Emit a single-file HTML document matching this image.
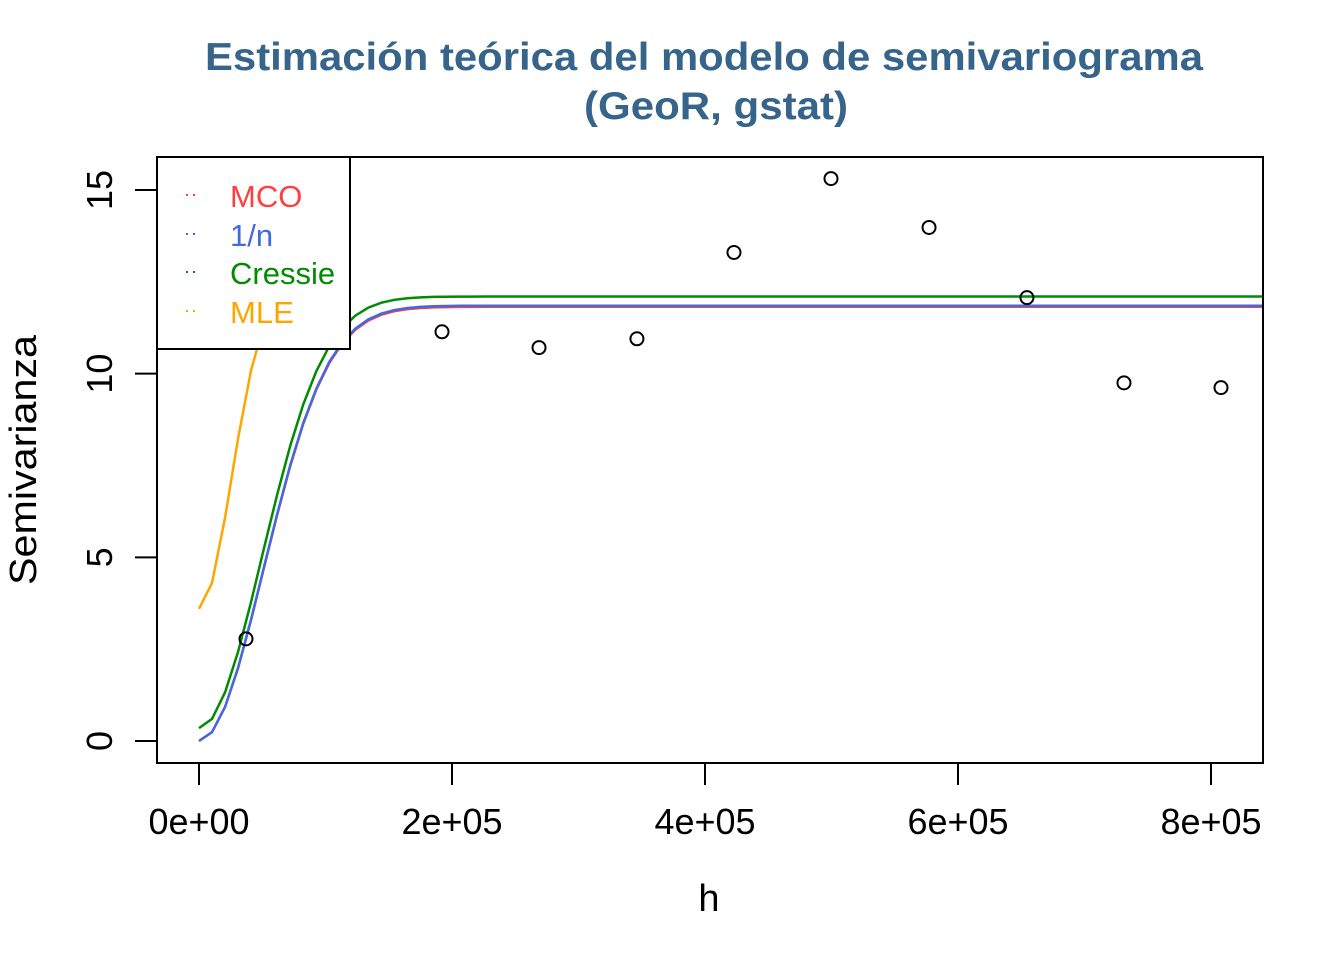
<!DOCTYPE html>
<html><head><meta charset="utf-8"><style>
html,body{margin:0;padding:0;background:#fff;}
svg{display:block;font-family:"Liberation Sans",sans-serif;}
</style></head><body>
<svg id="chart" width="1344" height="960" viewBox="0 0 1344 960">
<text x="704" y="70" text-anchor="middle" font-size="39" font-weight="bold" fill="#36648B" textLength="998" lengthAdjust="spacingAndGlyphs">Estimación teórica del modelo de semivariograma</text>
<text x="716" y="119" text-anchor="middle" font-size="39" font-weight="bold" fill="#36648B" textLength="264" lengthAdjust="spacingAndGlyphs">(GeoR, gstat)</text>
<defs><clipPath id="pc"><rect x="157" y="157" width="1106" height="606"/></clipPath></defs>
<g id="curves" clip-path="url(#pc)"></g>
<g id="pts"></g>
<g id="axes"></g>
<rect x="157" y="157" width="1106" height="606" fill="none" stroke="#000" stroke-width="2"/>
<g>
<rect x="157" y="157" width="193" height="192" fill="#fff" stroke="#000" stroke-width="2"/>
<g><line x1="186" y1="195" x2="198" y2="195" stroke="#FF3E3E" stroke-width="2" stroke-dasharray="2,5"/><text x="230" y="207" font-size="31" fill="#FF3E3E">MCO</text></g>
<g><line x1="186" y1="234" x2="198" y2="234" stroke="#4169E1" stroke-width="2" stroke-dasharray="2,5"/><text x="230" y="246" font-size="31" fill="#4169E1">1/n</text></g>
<g><line x1="186" y1="272" x2="198" y2="272" stroke="#008B00" stroke-width="2" stroke-dasharray="2,5"/><text x="230" y="284" font-size="31" fill="#008B00">Cressie</text></g>
<g><line x1="186" y1="311" x2="198" y2="311" stroke="#FFA500" stroke-width="2" stroke-dasharray="2,5"/><text x="230" y="323" font-size="31" fill="#FFA500">MLE</text></g>
</g>
<text x="709" y="911" text-anchor="middle" font-size="38">h</text>
<text transform="translate(36,460) rotate(-90)" text-anchor="middle" font-size="38" textLength="250" lengthAdjust="spacingAndGlyphs">Semivarianza</text>
</svg>
<script>
const distances = [37150, 192100, 268800, 346200, 422900, 499600, 577100, 654500, 731200, 807900];
const gammas = [2.78, 11.14, 10.71, 10.95, 13.30, 15.31, 13.98, 12.07, 9.75, 9.62];
const xTicks = [0, 200000, 400000, 600000, 800000];
const xTickLabels = ["0e+00", "2e+05", "4e+05", "6e+05", "8e+05"];
const yTicks = [0, 5, 10, 15];
const modelNames = ["MLE", "MCO", "1/n", "Cressie"];
const modelColors = ["#FFA500", "#FF3E3E", "#4169E1", "#008B00"];
const modelNugget = [3.6, 0, 0, 0.35];
const modelSill = [12.5, 11.82, 11.85, 12.1];
const modelRange = [36000, 72000, 72000, 70000];
const modelMaxH = [110000, 870000, 870000, 870000];
const NS = "http://www.w3.org/2000/svg";
function X(v){return 199 + v*(1211-199)/800000;}
function Y(v){return 741 - v*(741-190)/15;}
function mk(t,a,p){const e=document.createElementNS(NS,t);for(const k in a)e.setAttribute(k,a[k]);p.appendChild(e);return e;}
const cg=document.getElementById('curves');
for(let m=0;m<modelNames.length;m++){
  let d="";
  for(let h=0;h<=modelMaxH[m];h+=10300){
    const r=h/modelRange[m];
    const g=modelNugget[m]+(modelSill[m]-modelNugget[m])*(1-Math.exp(-r*r));
    d+=(h===0?"M":"L")+X(h).toFixed(1)+","+Y(g).toFixed(1);
  }
  const p=mk('path',{d:d,fill:"none",stroke:modelColors[m],"stroke-width":2.5},cg);
  
  
}
const pg=document.getElementById('pts');
for(let i=0;i<distances.length;i++){
  const c=mk('circle',{cx:X(distances[i]),cy:Y(gammas[i]),r:6.5,fill:"none",stroke:"#000","stroke-width":2},pg);
  
  
}
const ag=document.getElementById('axes');
mk('line',{x1:X(xTicks[0]),y1:763,x2:X(xTicks[xTicks.length-1]),y2:763,stroke:"#000","stroke-width":2},ag);
for(let i=0;i<xTicks.length;i++){
  mk('line',{x1:X(xTicks[i]),y1:763,x2:X(xTicks[i]),y2:785,stroke:"#000","stroke-width":2},ag);
  const t=mk('text',{x:X(xTicks[i]),y:834,"text-anchor":"middle","font-size":36},ag);
  t.textContent=xTickLabels[i];
  
  
}
mk('line',{x1:157,y1:Y(yTicks[0]),x2:157,y2:Y(yTicks[yTicks.length-1]),stroke:"#000","stroke-width":2},ag);
for(let i=0;i<yTicks.length;i++){
  mk('line',{x1:135,y1:Y(yTicks[i]),x2:157,y2:Y(yTicks[i]),stroke:"#000","stroke-width":2},ag);
  const t=mk('text',{transform:"translate(112,"+Y(yTicks[i])+") rotate(-90)","text-anchor":"middle","font-size":36},ag);
  t.textContent=String(yTicks[i]);
  
  
}
</script>
</body></html>
